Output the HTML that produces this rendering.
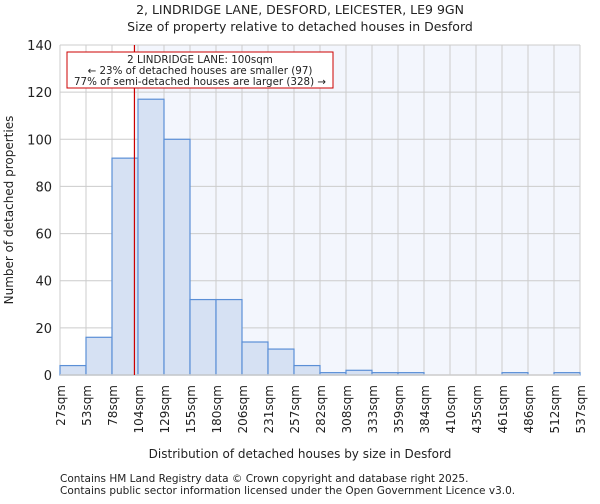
<!DOCTYPE html>
<html><head><meta charset="utf-8"><style>
body{margin:0;background:#fff;font-family:"DejaVu Sans","Liberation Sans",sans-serif}
svg text{font-family:"DejaVu Sans","Liberation Sans",sans-serif;fill:#222}
</style></head><body>
<svg id="c" width="600" height="500">
<text x="300" y="14" font-size="12.5" text-anchor="middle">2, LINDRIDGE LANE, DESFORD, LEICESTER, LE9 9GN</text>
<text x="300" y="31" font-size="12.5" text-anchor="middle">Size of property relative to detached houses in Desford</text>
<g id="plot"></g>
<text x="300" y="458" font-size="12" text-anchor="middle">Distribution of detached houses by size in Desford</text>
<text transform="translate(13,210) rotate(-90)" font-size="12" text-anchor="middle">Number of detached properties</text>
<text x="60" y="482" font-size="10.5">Contains HM Land Registry data © Crown copyright and database right 2025.</text>
<text x="60" y="494" font-size="10.5">Contains public sector information licensed under the Open Government Licence v3.0.</text>
</svg>
<script>
const categories=["27sqm","53sqm","78sqm","104sqm","129sqm","155sqm","180sqm","206sqm","231sqm","257sqm","282sqm","308sqm","333sqm","359sqm","384sqm","410sqm","435sqm","461sqm","486sqm","512sqm","537sqm"];
const counts=[4,16,92,117,100,32,32,14,11,4,1,2,1,1,0,0,0,1,0,1];
const yTicks=[0,20,40,60,80,100,120,140];
const binStart=27, binWidth=25.5, subjectSize=100;
const X0=60,X1=580,Y0=375,Y1=45,YMAX=140;
const nb=counts.length;
const xs=v=>X0+(v-binStart)/(binWidth*nb)*(X1-X0);
const xi=i=>X0+i*(X1-X0)/nb;
const ys=v=>Y0-v/YMAX*(Y0-Y1);
const NS="http://www.w3.org/2000/svg";
const g=document.getElementById('plot');
function mk(t,a,p){const e=document.createElementNS(NS,t);for(const k in a)e.setAttribute(k,a[k]);(p||g).appendChild(e);return e;}
const rx=xs(subjectSize);
let e=mk('rect',{x:rx,y:Y1,width:X1-rx,height:Y0-Y1,fill:'#f3f6fd'});


yTicks.forEach(t=>{const l=mk('line',{x1:X0,x2:X1,y1:ys(t),y2:ys(t),stroke:'#ccc','stroke-width':1});


const tx=mk('text',{x:X0-8,y:ys(t)+5,'font-size':13,'text-anchor':'end'});tx.textContent=t;

});
categories.forEach((c,i)=>{const x=xi(i);const l=mk('line',{x1:x,x2:x,y1:Y1,y2:Y0,stroke:'#ccc','stroke-width':1});


const tx=mk('text',{transform:`translate(${x+5},${Y0+10}) rotate(-90)`,'font-size':12,'text-anchor':'end'});tx.textContent=c;

});
counts.forEach((v,i)=>{const b=mk('rect',{x:xi(i),y:ys(v),width:xi(i+1)-xi(i),height:Y0-ys(v),fill:'#d6e1f3',stroke:'#5b8fd6','stroke-width':1.2});

});
e=mk('line',{x1:X0,x2:X1,y1:Y0,y2:Y0,stroke:'#ccc','stroke-width':1.5});


e=mk('line',{x1:rx,x2:rx,y1:Y1,y2:Y0,stroke:'#cc0000','stroke-width':1.2});


e=mk('rect',{x:67,y:52,width:266,height:36,fill:'#fff',stroke:'#cc0000','stroke-width':1});


["2 LINDRIDGE LANE: 100sqm","← 23% of detached houses are smaller (97)","77% of semi-detached houses are larger (328) →"].forEach((s,i)=>{
const t=mk('text',{x:200,y:63+i*11,'font-size':10.3,'text-anchor':'middle'});t.textContent=s;

});
</script>
</body></html>
